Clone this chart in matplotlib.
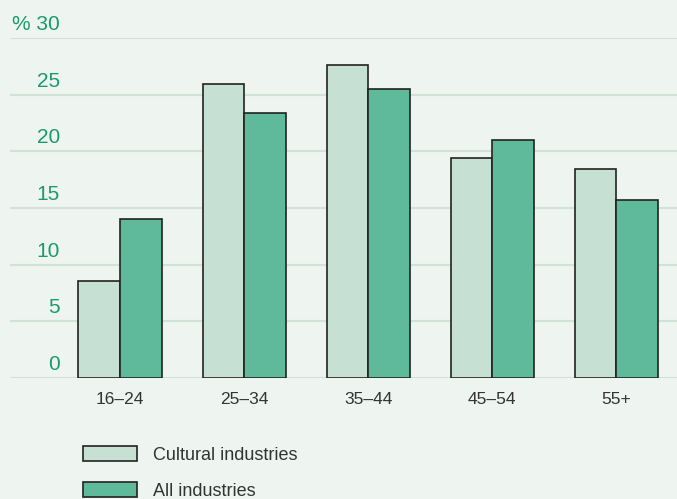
import matplotlib
matplotlib.use("Agg")
import matplotlib.pyplot as plt
from matplotlib.patches import Patch
from matplotlib.transforms import ScaledTranslation
import numpy as np

plt.rcParams["font.family"] = ["Liberation Sans", "DejaVu Sans"]

age_groups = ["16–24", "25–34", "35–44", "45–54", "55+"]
cultural = [8.6, 25.9, 27.6, 19.4, 18.4]
all_ind = [14.0, 23.4, 25.5, 21.0, 15.7]
yticks = [0, 5, 10, 15, 20, 25, 30]
ytick_labels = ["0", "5", "10", "15", "20", "25", "% 30"]

bg = "#eef4f0"
light = "#c6e1d4"
dark = "#5fb99b"
grid = "#cfe3d6"
green_text = "#1a9a6e"

fig = plt.figure(figsize=(6.77, 4.99), dpi=100, facecolor=bg)
W, H = 677, 499
ax = fig.add_axes([10 / W, 1 - 378 / H, 1 - 10 / W, 340 / H])
ax.set_facecolor(bg)

x = np.arange(len(age_groups))
w = 0.335
ax.bar(x - w / 2, cultural, w, color=light, edgecolor="#222222", linewidth=1.2, zorder=3)
ax.bar(x + w / 2, all_ind, w, color=dark, edgecolor="#222222", linewidth=1.2, zorder=3)

ax.set_xlim(-0.887, 4.49)
ax.set_ylim(0, 30)
ax.set_yticks(yticks)
ax.set_yticklabels([])
ax.set_xticks(x)
ax.set_xticklabels(age_groups)
for s in ax.spines.values():
    s.set_visible(False)
ax.grid(axis="y", color=grid, linewidth=1.5, zorder=0)
ax.tick_params(axis="y", length=0)
ax.tick_params(axis="x", length=0, pad=10, labelsize=12.5, labelcolor="#333333")

# y labels sit inside the plot, just above their gridline
lift = ScaledTranslation(0, 8 / 100, fig.dpi_scale_trans)
for val, txt in zip(yticks, ytick_labels):
    ax.text(50 / 667, val, txt, transform=ax.get_yaxis_transform() + lift,
            ha="right", va="baseline", fontsize=15, color=green_text)

handles = [
    Patch(facecolor=light, edgecolor="#222222", linewidth=1.2, label="Cultural industries"),
    Patch(facecolor=dark, edgecolor="#222222", linewidth=1.2, label="All industries"),
]
fig.legend(handles=handles, loc="upper left", bbox_to_anchor=(83 / W, 1 - 446 / H),
           frameon=False, fontsize=13, handlelength=3.0, handleheight=0.9,
           labelspacing=1.0, handletextpad=0.85, borderpad=0, borderaxespad=0,
           labelcolor="#333333")

fig.savefig("out.png", dpi=100, facecolor=bg)
